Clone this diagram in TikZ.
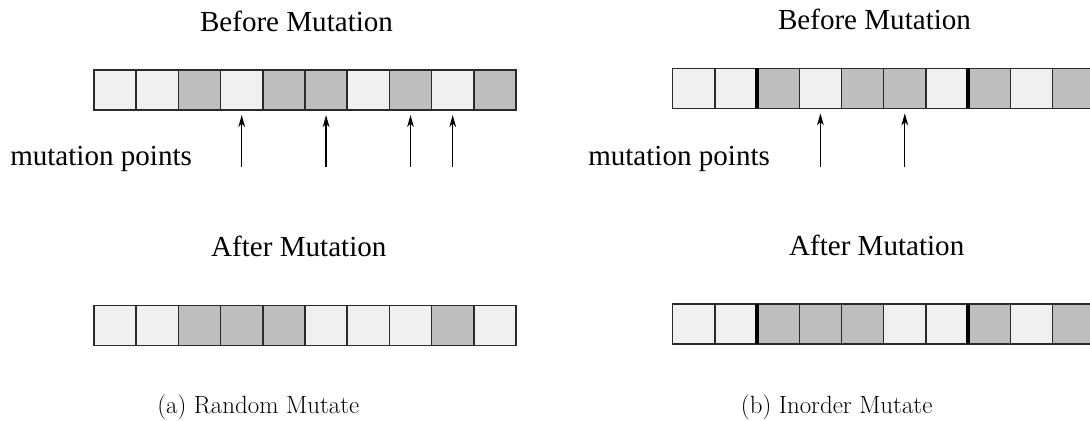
\documentclass[tikz,border=0pt]{standalone}
\usepackage{fontspec}
\newfontfamily\lserif{Liberation Serif}
\usetikzlibrary{arrows.meta}
\definecolor{cellL}{HTML}{F0F0F0}
\definecolor{cellD}{HTML}{BEBEBE}
\definecolor{cellrule}{HTML}{2A2A2A}
\tikzset{
  cell/.style={draw=cellrule, line width=1.1pt, minimum width=31.65pt, minimum height=30pt, inner sep=0pt, outer sep=0pt},
  cut/.style={line width=3pt, draw=black},
  title/.style={font=\lserif\fontsize{21.8}{24}\selectfont, anchor=base, inner sep=0pt},
  pointlabel/.style={font=\lserif\fontsize{21.8}{24}\selectfont, anchor=base west, inner sep=0pt},
  caption/.style={font=\fontsize{18.7}{22}\selectfont, anchor=base, inner sep=0pt},
  marker/.style={line width=1pt, -{Stealth[length=9pt, width=5pt, inset=2.5pt]}, shorten >=3.75pt},
}
\begin{document}
\begin{tikzpicture}[x=0.75pt, y=-0.75pt]
  \clip (0,0) rectangle (1090,421);
  \fill[white] (0,0) rectangle (1090,421);

  % ---------- (a) random mutate ----------
  \node[title] (beforeA) at (296.5,31.5) {Before Mutation};
  \foreach \s [count=\i from 0] in {L,L,D,L,D,D,L,D,L,D}
    \node[cell, fill=cell\s] (ta\i) at ({94+42.2*\i+21.1},90) {};
  \node[pointlabel] (ptsA) at (10,165) {mutation points};
  \coordinate (baseA) at (0,167);
  \foreach \k in {3,5,7,8}
    \draw[marker] (ta\k.south |- baseA) -- (ta\k.south);
  \node[title] (afterA) at (298.8,256.5) {After Mutation};
  \foreach \s [count=\i from 0] in {L,L,D,D,D,L,L,L,D,L}
    \node[cell, fill=cell\s] (ba\i) at ({94+42.2*\i+21.1},325.5) {};
  \node[caption] (capA) at (258.3,413) {(a) Random Mutate};

  % ---------- (b) inorder mutate ----------
  \node[title] (beforeB) at (874.5,29.5) {Before Mutation};
  \foreach \s [count=\i from 0] in {L,L,D,L,D,D,L,D,L,D}
    \node[cell, fill=cell\s] (tb\i) at ({672.7+42.2*\i+21.1},88.3) {};
  \draw[cut] (tb1.north east) -- (tb1.south east);
  \draw[cut] (tb6.north east) -- (tb6.south east);
  \node[pointlabel] (ptsB) at (588,165) {mutation points};
  \coordinate (baseB) at (0,167);
  \foreach \k in {3,5}
    \draw[marker] (tb\k.south |- baseB) -- (tb\k.south);
  \node[title] (afterB) at (876.7,255) {After Mutation};
  \foreach \s [count=\i from 0] in {L,L,D,D,D,L,L,D,L,D}
    \node[cell, fill=cell\s] (bb\i) at ({672.7+42.2*\i+21.1},324) {};
  \draw[cut] (bb1.north east) -- (bb1.south east);
  \draw[cut] (bb6.north east) -- (bb6.south east);
  \node[caption] (capB) at (836.7,413) {(b) Inorder Mutate};
\end{tikzpicture}
\end{document}
